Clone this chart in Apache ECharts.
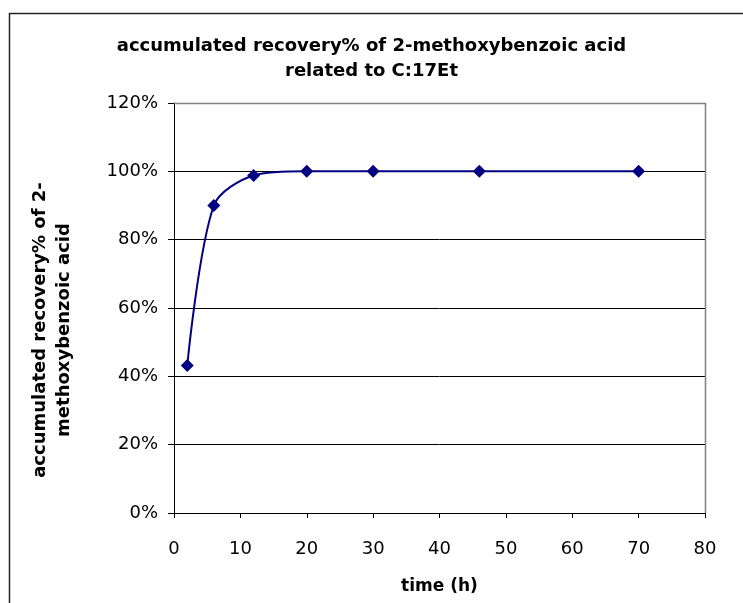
<!DOCTYPE html>
<html>
<head>
<meta charset="utf-8">
<script src="https://cdn.jsdelivr.net/npm/echarts@6/dist/echarts.min.js"></script>
<style>
html,body{margin:0;padding:0;background:#fff;}
#chart{width:743px;height:603px;}
</style>
</head>
<body>
<div id="chart"></div>
<script>
const timeHours = [2, 6, 12, 20, 30, 46, 70];
const recoveryPct = [43.2, 90.0, 98.8, 100.0, 100.0, 100.0, 100.0];
const xTicks = [0, 10, 20, 30, 40, 50, 60, 70, 80];
const yTicks = [0, 20, 40, 60, 80, 100, 120];
const titleText = 'accumulated recovery% of 2-methoxybenzoic acid\nrelated to C:17Et';
const yName = 'accumulated recovery% of 2-\nmethoxybenzoic acid';
const xName = 'time (h)';

const chart = echarts.init(document.getElementById('chart'), null, {renderer: 'canvas'});
const FONT = 'DejaVu Sans';
chart.setOption({
  animation: false,
  backgroundColor: '#fff',
  title: {
    text: titleText,
    left: 'center',
    top: 29,
    textStyle: {fontFamily: FONT, fontWeight: 'bold', fontSize: 18, lineHeight: 25, color: '#000'}
  },
  graphic: [{
    type: 'rect',
    shape: {x: 9.5, y: 13.5, width: 800, height: 700},
    style: {fill: 'none', stroke: '#222', lineWidth: 1.5},
    silent: true, z: -1
  }, {
    type: 'polyline',
    shape: {points: [[174, 103.5], [705.5, 103.5], [705.5, 513]]},
    style: {fill: 'none', stroke: '#808080', lineWidth: 1.5},
    silent: true, z: 1
  }],
  grid: {left: 174, right: 38, top: 103, bottom: 90, containLabel: false},
  xAxis: {
    type: 'value', min: xTicks[0], max: xTicks[xTicks.length - 1], interval: 10,
    name: xName, nameLocation: 'middle', nameGap: 65,
    nameTextStyle: {fontFamily: FONT, fontWeight: 'bold', fontSize: 17, color: '#000'},
    axisLine: {show: true, onZero: false, lineStyle: {color: '#000', width: 1}},
    axisTick: {show: true, inside: false, length: 5, lineStyle: {color: '#000'}},
    axisLabel: {fontFamily: FONT, fontSize: 18, color: '#000', margin: 27},
    splitLine: {show: false}
  },
  yAxis: {
    type: 'value', min: yTicks[0], max: yTicks[yTicks.length - 1], interval: 20,
    name: yName, nameLocation: 'middle', nameRotate: 90, nameGap: 98,
    nameTextStyle: {fontFamily: FONT, fontWeight: 'bold', fontSize: 18, lineHeight: 24, color: '#000', align: 'center', padding: [0, 44, 0, 0]},
    axisLine: {show: true, lineStyle: {color: '#000', width: 1}},
    axisTick: {show: true, inside: false, length: 6, lineStyle: {color: '#000'}},
    axisLabel: {fontFamily: FONT, fontSize: 18, color: '#000', margin: 16, formatter: '{value}%'},
    splitLine: {show: true, lineStyle: {color: '#000', width: 1}}
  },
  series: [{
    type: 'line',
    data: timeHours.map((t, i) => [t, recoveryPct[i]]),
    smooth: 0.3,
    symbol: 'diamond',
    symbolSize: 13,
    lineStyle: {color: '#000080', width: 2},
    itemStyle: {color: '#000080'},
    z: 3
  }]
});
</script>
</body>
</html>
